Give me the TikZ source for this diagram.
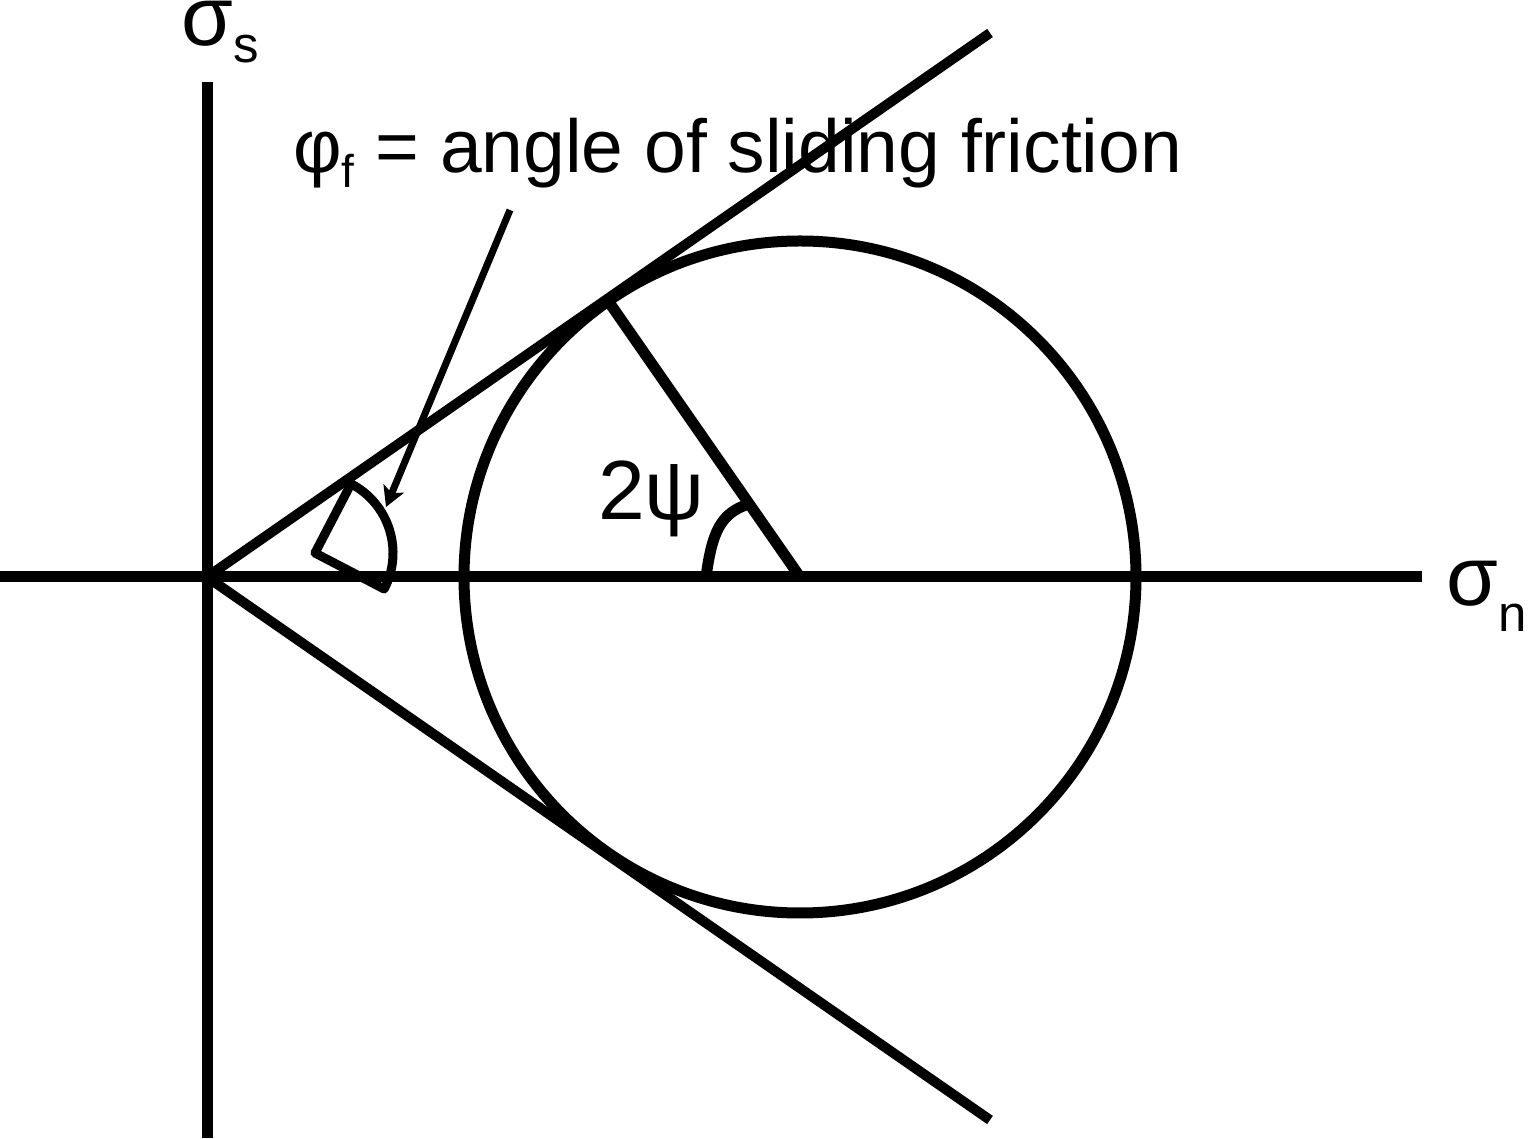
\documentclass[tikz,border=0pt]{standalone}
\usepackage{fontspec}
\setmainfont{Liberation Sans}
\usetikzlibrary{arrows.meta,calc}
\tikzset{
  axis/.style={line width=11pt},
  tangent/.style={line width=10pt},
  mohr/.style={line width=11pt},
  anglemark/.style={line width=9pt, line join=round},
  pointer/.style={line width=7pt, -{Stealth[length=20pt,width=22pt,inset=5pt]}},
  biglabel/.style={anchor=base west, inner sep=0pt, font=\fontsize{84}{90}\selectfont},
}

\begin{document}
\begin{tikzpicture}[x=1pt,y=1pt]
\useasboundingbox (0,0) rectangle (1531,1138);

% Points
\coordinate (O) at (207,561);
\coordinate (hL) at (0,561);
\coordinate (hR) at (1422,561);
\coordinate (vB) at (207,0);
\coordinate (vT) at (207,1056);
\coordinate (U) at (990,1105);
\coordinate (L) at (990,18);
\coordinate (C) at (800,561);
\coordinate (T) at ($(C)+(124.8:336)$);
\coordinate (A) at (749,634);
\coordinate (P) at (315,585);
\coordinate (tail) at (510,928);
\coordinate (tip) at (386,631);

% Labels
\node[biglabel, text height=0.55em] (sigS) at (181,1092) {σ\raisebox{-17pt}{\fontsize{51}{54}\selectfont s}};
\node[biglabel] (sigN) at (1446,532) {σ\raisebox{-26pt}{\fontsize{51}{54}\selectfont n}};
\node[biglabel] (twoPsi) at (598,618) {2ψ};
\node[anchor=base west, inner sep=0pt, font=\fontsize{75}{80}\selectfont] (phiF) at (293,965)
  {φ\raisebox{-15pt}{\fontsize{46}{50}\selectfont f} = angle of sliding friction};

% Axes
\draw[axis] (hL) -- (hR);
\draw[axis] (vB) -- (vT);

% Failure envelope
\draw[tangent] (O) -- (U);
\draw[tangent] (O) -- (L);

% Mohr circle
\draw[mohr] (C) circle[radius=336];
\draw[mohr] (C) -- (T);
\draw[mohr] ($(C)+(180:94)$) .. controls (712,605) and (720,625) .. (A);

% Friction angle
\draw[anglemark] (P) -- ++(62.5:78) arc[start angle=62.5, end angle=-27.5, radius=78] -- cycle;
\draw[pointer] (tail) -- (tip);

\end{tikzpicture}
\end{document}
